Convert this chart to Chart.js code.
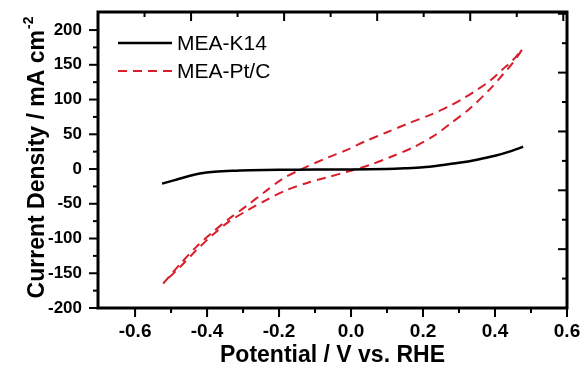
<!DOCTYPE html>
<html>
<head>
<meta charset="utf-8">
<script src="https://cdn.jsdelivr.net/npm/chart.js@4.4.0/dist/chart.umd.min.js"></script>
<style>
  html, body { margin: 0; padding: 0; background: #fff; }
</style>
</head>
<body>
<canvas id="myChart" width="582" height="381"></canvas>
<script>
// MEA-K14 (solid black)
const k14Potential = [-0.525, -0.49, -0.45, -0.42, -0.38, -0.33, -0.28, -0.2, -0.1, 0, 0.1, 0.15, 0.2, 0.25, 0.3, 0.35, 0.4, 0.44, 0.478];
const k14Current = [-21, -16, -10, -6.5, -4, -2.4, -1.6, -1, -0.8, -0.6, 0, 1, 2.5, 5.5, 9, 13.5, 19, 25, 32];

// MEA-Pt/C (dashed red), forward then back
const ptcPotential = [-0.522, -0.475, -0.43, -0.385, -0.34, -0.29, -0.24, -0.19, -0.133, -0.067, -0.01, 0.044, 0.1, 0.156, 0.22, 0.275, 0.31, 0.35, 0.386, 0.42, 0.45, 0.475,
  0.45, 0.42, 0.386, 0.33, 0.275, 0.228, 0.172, 0.108, 0.053, -0.011, -0.067, -0.122, -0.178, -0.233, -0.286, -0.34, -0.385, -0.43, -0.475, -0.52];
const ptcCurrent = [-165, -137, -112, -91, -72, -53, -33, -14, 1, 16, 28, 41, 53, 65, 78, 91, 101, 114, 127, 143, 157, 172,
  153, 135, 115, 87, 65, 47, 31, 17, 6, -4, -12, -20, -30, -44, -59, -76, -95, -117, -141, -163];

const xTickValues = [-0.6, -0.4, -0.2, 0, 0.2, 0.4, 0.6];
const xMinorValues = [-0.5, -0.3, -0.1, 0.1, 0.3, 0.5];
const yTickValues = [-200, -150, -100, -50, 0, 50, 100, 150, 200];
const yMinorValues = [-175, -125, -75, -25, 25, 75, 125, 175];
// the mirrored top / right axes have their own (unlabelled) spacing
const topMajor = [0, 1, 2, 3, 4];
const topMinor = [-0.5, 0.5, 1.5, 2.5, 3.5];
const rightMajor = [0, 1, 2, 3, 4];
const rightMinor = [-0.5, 0.5, 1.5, 2.5, 3.5];

const RED = '#d81e2a';
const FONT = "'Liberation Sans', Arial, sans-serif";

const toPoints = (xs, ys) => xs.map((x, i) => ({ x: x, y: ys[i] }));

const framePlugin = {
  id: 'frame',
  afterDraw(chart) {
    const { ctx, chartArea: a, scales } = chart;
    ctx.save();
    ctx.strokeStyle = '#000';
    ctx.fillStyle = '#000';
    ctx.lineWidth = 2;
    const tick = (x1, y1, x2, y2) => { ctx.beginPath(); ctx.moveTo(x1, y1); ctx.lineTo(x2, y2); ctx.stroke(); };

    xTickValues.forEach(v => { const p = scales.x.getPixelForValue(v); tick(p, a.bottom, p, a.bottom + 9); });
    xMinorValues.forEach(v => { const p = scales.x.getPixelForValue(v); tick(p, a.bottom, p, a.bottom + 5); });
    yTickValues.forEach(v => { const p = scales.y.getPixelForValue(v); tick(a.left - 9, p, a.left, p); });
    yMinorValues.forEach(v => { const p = scales.y.getPixelForValue(v); tick(a.left - 5, p, a.left, p); });
    topMajor.forEach(v => { const p = scales.x2.getPixelForValue(v); tick(p, a.top, p, a.top + 9); });
    topMinor.forEach(v => { const p = scales.x2.getPixelForValue(v); tick(p, a.top, p, a.top + 5); });
    rightMajor.forEach(v => { const p = scales.y2.getPixelForValue(v); tick(a.right - 9, p, a.right, p); });
    rightMinor.forEach(v => { const p = scales.y2.getPixelForValue(v); tick(a.right - 5, p, a.right, p); });

    ctx.lineWidth = 3;
    ctx.strokeRect(a.left, a.top, a.right - a.left, a.bottom - a.top);

    // y axis title with superscript
    ctx.save();
    ctx.translate(44, 158);
    ctx.rotate(-Math.PI / 2);
    const main = 'Current Density / mA cm';
    const sup = '-2';
    ctx.font = 'bold 23px ' + FONT;
    const w1 = ctx.measureText(main).width;
    ctx.font = 'bold 14px ' + FONT;
    const w2 = ctx.measureText(sup).width;
    const start = -(w1 + w2) / 2;
    ctx.textBaseline = 'alphabetic';
    ctx.textAlign = 'left';
    ctx.font = 'bold 23px ' + FONT;
    ctx.fillText(main, start, 0);
    ctx.font = 'bold 14px ' + FONT;
    ctx.fillText(sup, start + w1 + 1, -11);
    ctx.restore();

    // legend
    const ds = chart.data.datasets;
    const rows = [43, 71];
    ds.forEach((d, i) => {
      const y = rows[i];
      ctx.strokeStyle = d.borderColor;
      ctx.lineWidth = d.borderWidth;
      ctx.setLineDash(d.borderDash || []);
      tick(118, y, 172, y);
      ctx.setLineDash([]);
      ctx.fillStyle = '#000';
      ctx.font = '21px ' + FONT;
      ctx.textBaseline = 'middle';
      ctx.textAlign = 'left';
      ctx.fillText(d.label, 177, y + 1);
    });
    ctx.restore();
  }
};

const ctx = document.getElementById('myChart').getContext('2d');
const chart = new Chart(ctx, {
  type: 'scatter',
  data: {
    datasets: [{
      label: 'MEA-K14',
      data: toPoints(k14Potential, k14Current),
      showLine: true,
      borderColor: '#000',
      borderWidth: 2.5,
      pointRadius: 0,
      tension: 0.3
    }, {
      label: 'MEA-Pt/C',
      data: toPoints(ptcPotential, ptcCurrent),
      showLine: true,
      borderColor: RED,
      borderWidth: 2,
      borderDash: [9, 6],
      pointRadius: 0,
      tension: 0.3
    }]
  },
  options: {
    responsive: false,
    animation: false,
    layout: { padding: { top: 12, right: 15, left: 0, bottom: 0 } },
    plugins: { legend: { display: false }, tooltip: { enabled: false } },
    scales: {
      x: {
        type: 'linear',
        position: 'bottom',
        min: -0.703,
        max: 0.6,
        afterFit: s => { s.height = 73; s.paddingLeft = 0; s.paddingRight = 0; },
        afterBuildTicks: s => { s.ticks = xTickValues.map(v => ({ value: v })); },
        grid: { display: false, drawTicks: false },
        border: { display: false },
        ticks: {
          padding: 12,
          color: '#000',
          maxRotation: 0,
          autoSkip: false,
          font: { family: FONT, size: 19, weight: 'bold' },
          callback: v => v.toFixed(1)
        },
        title: {
          display: true,
          text: 'Potential / V vs. RHE',
          color: '#000',
          font: { family: FONT, size: 23, weight: 'bold' },
          padding: { top: 0, bottom: 12 }
        }
      },
      y: {
        type: 'linear',
        position: 'left',
        min: -200,
        max: 226,
        afterFit: s => { s.width = 98; s.paddingTop = 0; s.paddingBottom = 0; },
        afterBuildTicks: s => { s.ticks = yTickValues.map(v => ({ value: v })); },
        grid: { display: false, drawTicks: false },
        border: { display: false },
        ticks: {
          padding: 16,
          color: '#000',
          autoSkip: false,
          font: { family: FONT, size: 17, weight: 'bold' },
          callback: v => String(v)
        }
      },
      x2: { type: 'linear', position: 'top', display: false, min: -1, max: 4.04 },
      y2: { type: 'linear', position: 'right', display: false, min: -1, max: 4.03 }
    }
  },
  plugins: [framePlugin]
});
</script>
</body>
</html>
